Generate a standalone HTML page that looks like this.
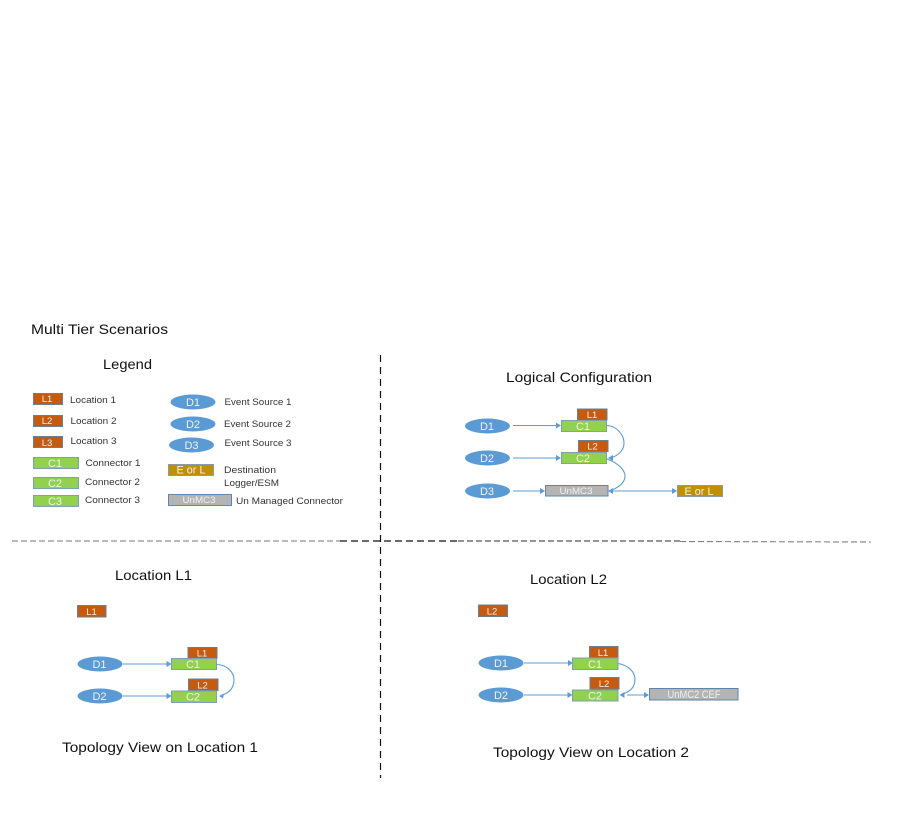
<!DOCTYPE html>
<html><head><meta charset="utf-8"><style>
html,body{margin:0;padding:0;background:#fff;width:901px;height:818px;overflow:hidden}
svg{display:block;filter:blur(.35px)}
text{font-family:"Liberation Sans",sans-serif}
.t{font-size:14px;fill:#111}
.s{font-size:9.5px;fill:#333}
.w{fill:#eef3e8;text-anchor:middle;font-size:11px}
.ws{fill:#f0f0f0;text-anchor:middle;font-size:9.5px}
.L{fill:#c55a11;stroke:#6b7f8f;stroke-width:1}
.C{fill:#92d050;stroke:#7ba0b8;stroke-width:1}
.D{fill:#5b9bd5}
.E{fill:#bf9000;stroke:#8a9aa8;stroke-width:1}
.U{fill:#b4b4b4;stroke:#5f86a8;stroke-width:1}
.a{stroke:#5b9bd5;stroke-width:1.1;fill:none}
.h{fill:#5b9bd5}
</style></head><body>
<svg width="901" height="818" viewBox="0 0 901 818" xmlns="http://www.w3.org/2000/svg">
<rect width="901" height="818" fill="#fff"/>
<line x1="12" y1="541" x2="340" y2="541" stroke="#909090" stroke-width="1.2" stroke-dasharray="6 3"/>
<line x1="340" y1="541" x2="458" y2="541" stroke="#111" stroke-width="1.2" stroke-dasharray="7 4"/>
<line x1="458" y1="541" x2="680" y2="541" stroke="#555" stroke-width="1.2" stroke-dasharray="6 3"/>
<line x1="680" y1="541.5" x2="871" y2="542" stroke="#808080" stroke-width="1.1" stroke-dasharray="6 3"/>
<line x1="380.5" y1="355" x2="380.5" y2="778" stroke="#111" stroke-width="1.2" stroke-dasharray="7 5"/>

<text class="t" x="31" y="334" textLength="137" lengthAdjust="spacingAndGlyphs">Multi Tier Scenarios</text>
<text class="t" x="103" y="369" textLength="49" lengthAdjust="spacingAndGlyphs">Legend</text>
<text class="t" x="506" y="382" textLength="146" lengthAdjust="spacingAndGlyphs">Logical Configuration</text>
<text class="t" x="115" y="580" textLength="77" lengthAdjust="spacingAndGlyphs">Location L1</text>
<text class="t" x="530" y="584" textLength="77" lengthAdjust="spacingAndGlyphs">Location L2</text>
<text class="t" x="62" y="752" textLength="196" lengthAdjust="spacingAndGlyphs">Topology View on Location 1</text>
<text class="t" x="493" y="757" textLength="196" lengthAdjust="spacingAndGlyphs">Topology View on Location 2</text>

<!-- Legend -->
<rect class="L" x="33.5" y="393.5" width="29" height="11"/><text class="ws" x="47" y="402">L1</text>
<rect class="L" x="33.5" y="415.5" width="29" height="11"/><text class="ws" x="47" y="424">L2</text>
<rect class="L" x="33.5" y="436.5" width="29" height="11"/><text class="ws" x="47" y="446">L3</text>
<rect class="C" x="33.5" y="457.5" width="45" height="11"/><text class="w" x="55" y="467">C1</text>
<rect class="C" x="33.5" y="477.5" width="45" height="11"/><text class="w" x="55" y="487">C2</text>
<rect class="C" x="33.5" y="495.5" width="45" height="11"/><text class="w" x="55" y="505">C3</text>
<text class="s" x="70" y="403" textLength="46" lengthAdjust="spacingAndGlyphs">Location 1</text>
<text class="s" x="70.500" y="424" textLength="46" lengthAdjust="spacingAndGlyphs">Location 2</text>
<text class="s" x="70.500" y="444" textLength="46" lengthAdjust="spacingAndGlyphs">Location 3</text>
<text class="s" x="85.500" y="466" textLength="55" lengthAdjust="spacingAndGlyphs">Connector 1</text>
<text class="s" x="85" y="485" textLength="55" lengthAdjust="spacingAndGlyphs">Connector 2</text>
<text class="s" x="85" y="503" textLength="55" lengthAdjust="spacingAndGlyphs">Connector 3</text>

<ellipse class="D" cx="193" cy="402" rx="22.500" ry="7.500"/><text class="w" x="193" y="406">D1</text>
<ellipse class="D" cx="193" cy="424" rx="22.500" ry="7.500"/><text class="w" x="193" y="428">D2</text>
<ellipse class="D" cx="191.500" cy="445" rx="22.500" ry="7.500"/><text class="w" x="191.500" y="449">D3</text>
<text class="s" x="224.500" y="405" textLength="67" lengthAdjust="spacingAndGlyphs">Event Source 1</text>
<text class="s" x="224" y="427" textLength="67" lengthAdjust="spacingAndGlyphs">Event Source 2</text>
<text class="s" x="224.500" y="446" textLength="67" lengthAdjust="spacingAndGlyphs">Event Source 3</text>
<rect class="E" x="168.500" y="464.500" width="45" height="11"/><text class="w" x="191" y="473.500" textLength="29" lengthAdjust="spacingAndGlyphs">E or L</text>
<text class="s" x="224" y="473" textLength="52" lengthAdjust="spacingAndGlyphs">Destination</text>
<text class="s" x="224" y="486" textLength="55" lengthAdjust="spacingAndGlyphs">Logger/ESM</text>
<rect class="U" x="168.500" y="494.500" width="63" height="11"/><text class="ws" x="199" y="503" textLength="33" lengthAdjust="spacingAndGlyphs">UnMC3</text>
<text class="s" x="236" y="504" textLength="107" lengthAdjust="spacingAndGlyphs">Un Managed Connector</text>

<!-- Logical -->
<ellipse class="D" cx="487.500" cy="426" rx="22.500" ry="7.500"/><text class="w" x="487" y="430">D1</text>
<ellipse class="D" cx="487.500" cy="458" rx="22.500" ry="7.500"/><text class="w" x="487" y="462">D2</text>
<ellipse class="D" cx="487.500" cy="491" rx="22.500" ry="7.500"/><text class="w" x="487" y="495">D3</text>
<rect class="L" x="577.500" y="409" width="29.500" height="11"/><text class="ws" x="592" y="418">L1</text>
<rect class="L" x="578.500" y="440.500" width="29.500" height="11"/><text class="ws" x="592.500" y="449.500">L2</text>
<rect class="C" x="561.500" y="420.500" width="45" height="11"/><text class="w" x="583" y="430">C1</text>
<rect class="C" x="561.500" y="452.500" width="45" height="11"/><text class="w" x="583" y="462">C2</text>
<rect class="U" x="545.500" y="485.500" width="62.500" height="10.500"/><text class="ws" x="576" y="494" textLength="33" lengthAdjust="spacingAndGlyphs">UnMC3</text>
<rect class="E" x="677.500" y="485.500" width="45" height="11"/><text class="w" x="699" y="495" textLength="29" lengthAdjust="spacingAndGlyphs">E or L</text>
<path class="a" d="M513 425.500H556M513 458H556M513 491H540M612 491H673"/>
<path class="a" d="M607 425.500C617 426 624 435 624 443C624 450 619 455 612 457.500"/>
<path class="a" d="M607 459C618 463 625 470 625 476C625 483 619 487 612 490"/>
<path class="h" d="M561 425.500l-5-3v6zM561 458l-5-3v6zM545 491l-5-3v6zM608 458l5-3v6zM608 491l5-3v6zM677 491l-5-3v6z"/>

<!-- Location L1 -->
<rect class="L" x="77.500" y="605.500" width="28.500" height="11.500"/><text class="ws" x="91.500" y="615">L1</text>
<ellipse class="D" cx="100" cy="664" rx="22.500" ry="7.500"/><text class="w" x="99.500" y="668">D1</text>
<ellipse class="D" cx="100" cy="696" rx="22.500" ry="7.500"/><text class="w" x="99.500" y="700">D2</text>
<rect class="L" x="188" y="647.500" width="29" height="11"/><text class="ws" x="202" y="656.500">L1</text>
<rect class="L" x="188.500" y="679" width="29.500" height="11.500"/><text class="ws" x="202.500" y="688.500">L2</text>
<rect class="C" x="171.500" y="658.500" width="45" height="11"/><text class="w" x="193" y="668">C1</text>
<rect class="C" x="171.500" y="691" width="45" height="11.500"/><text class="w" x="193" y="700.500">C2</text>
<path class="a" d="M123 664H167M123 696H167"/>
<path class="a" d="M217 664.500C228 665 234 673 234 680C234 688 229 693 222 695"/>
<path class="h" d="M219 696l5-2.500 -1 5zM171.500 664l-5-3v6zM171.500 696l-5-3v6z"/>

<!-- Location L2 -->
<rect class="L" x="478.500" y="605" width="29" height="11.500"/><text class="ws" x="492" y="614.500">L2</text>
<ellipse class="D" cx="501" cy="663" rx="22.500" ry="7.500"/><text class="w" x="501" y="667">D1</text>
<ellipse class="D" cx="501" cy="695" rx="22.500" ry="7.500"/><text class="w" x="501" y="699">D2</text>
<rect class="L" x="589.500" y="646.500" width="28.500" height="11.500"/><text class="ws" x="603" y="656">L1</text>
<rect class="L" x="590" y="677.500" width="29" height="11.500"/><text class="ws" x="604" y="687">L2</text>
<rect class="C" x="572.500" y="658" width="45.500" height="11.500"/><text class="w" x="595" y="668">C1</text>
<rect class="C" x="572.500" y="690" width="45.500" height="11"/><text class="w" x="595" y="699.500">C2</text>
<rect class="U" x="649.500" y="688.500" width="88.500" height="11.500"/><text class="w" x="694" y="698" textLength="53" lengthAdjust="spacingAndGlyphs">UnMC2 CEF</text>
<path class="a" d="M524 663H568M524 695H568M627 695H645"/>
<path class="a" d="M618 663.500C628 665 635 672 635 679C635 687 630 692 622 694"/>
<path class="h" d="M573 663l-5-3v6zM572.500 695l-5-3v6zM619.500 695l5-3v6zM649 695l-5-3v6z"/>
</svg>
</body></html>
